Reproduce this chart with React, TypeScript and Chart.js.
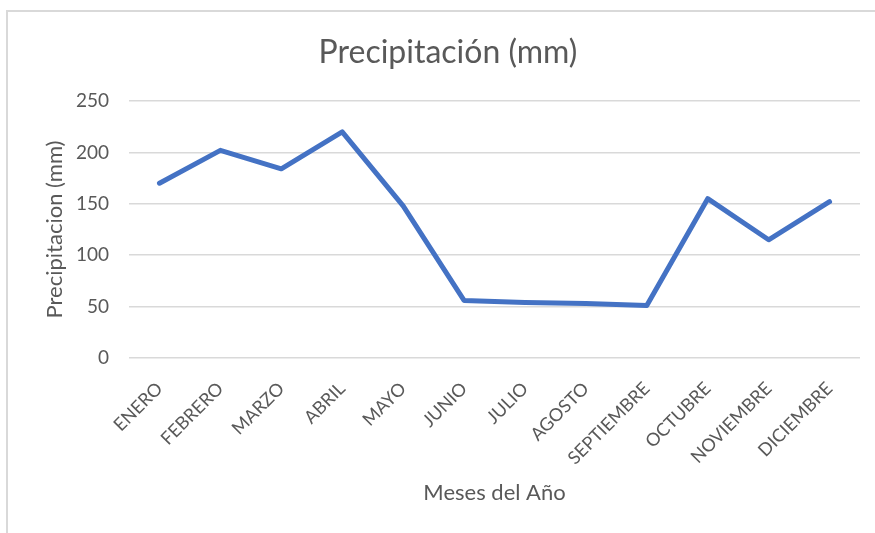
import React, { useEffect, useRef } from "react";
import { Chart, registerables } from "chart.js";

Chart.register(...registerables);

const months = [
  "ENERO", "FEBRERO", "MARZO", "ABRIL", "MAYO", "JUNIO",
  "JULIO", "AGOSTO", "SEPTIEMBRE", "OCTUBRE", "NOVIEMBRE", "DICIEMBRE",
];
const precipitation = [170, 202, 184, 220, 148, 56, 54, 53, 51, 155, 115, 152];
const yTicks = [0, 50, 100, 150, 200, 250];

const chartTitle = "Precipitación (mm)";
const yTitle = "Precipitacion (mm)";
const xTitle = "Meses del Año";

const FONT = "Lato, 'Open Sans', sans-serif";
const TEXT = "#595959";
const GRID = "#d9d9d9";
const LINE = "#4472c4";

export default function App() {
  const ref = useRef<HTMLCanvasElement | null>(null);

  useEffect(() => {
    if (!ref.current) return;
    const chart = new Chart(ref.current, {
      type: "line",
      data: {
        labels: months,
        datasets: [
          {
            data: precipitation,
            borderColor: LINE,
            borderWidth: 5,
            pointRadius: 0,
            tension: 0,
            fill: false,
            borderJoinStyle: "round",
            borderCapStyle: "round",
          },
        ],
      },
      options: {
        responsive: false,
        animation: false,
        layout: { padding: { left: 36, right: 15, top: 0, bottom: 0 } },
        plugins: {
          legend: { display: false },
          tooltip: { enabled: false },
          title: {
            display: true,
            text: chartTitle,
            color: TEXT,
            font: { family: FONT, size: 32, weight: "normal" },
            padding: { top: 33, bottom: 29.6 },
          },
        },
        scales: {
          x: {
            offset: true,
            grid: { display: false },
            border: { display: false },
            afterFit: (s: any) => {
              s.height = 175;
            },
            ticks: {
              autoSkip: false,
              maxRotation: 45,
              minRotation: 45,
              padding: 12,
              color: TEXT,
              font: { family: FONT, size: 18 },
            },
            title: {
              display: true,
              text: xTitle,
              color: TEXT,
              font: { family: FONT, size: 22 },
              padding: { top: 0, bottom: 27 },
            },
          },
          y: {
            min: 0,
            max: 250,
            afterFit: (s: any) => {
              s.width = 93;
            },
            afterBuildTicks: (s: any) => {
              s.ticks = yTicks.map((v) => ({ value: v }));
            },
            grid: { color: GRID, lineWidth: 1.5, drawTicks: false },
            border: { display: false },
            ticks: {
              padding: 20,
              color: TEXT,
              font: { family: FONT, size: 19 },
            },
            title: {
              display: true,
              text: yTitle,
              color: TEXT,
              font: { family: FONT, size: 22 },
              padding: { top: 6, bottom: 0 },
            },
          },
        },
      },
    });
    return () => chart.destroy();
  }, []);

  return (
    <div
      style={{
        position: "fixed",
        left: 0,
        top: 0,
        width: 875,
        height: 533,
        background: "#fff",
        overflow: "hidden",
      }}
    >
      <div
        style={{
          position: "absolute",
          left: 6,
          top: 10,
          width: 900,
          height: 600,
          borderTop: `2px solid ${GRID}`,
          borderLeft: `2px solid ${GRID}`,
        }}
      />
      <canvas
        ref={ref}
        width={875}
        height={533}
        style={{ position: "absolute", left: 0, top: 0, width: 875, height: 533 }}
      />
    </div>
  );
}
